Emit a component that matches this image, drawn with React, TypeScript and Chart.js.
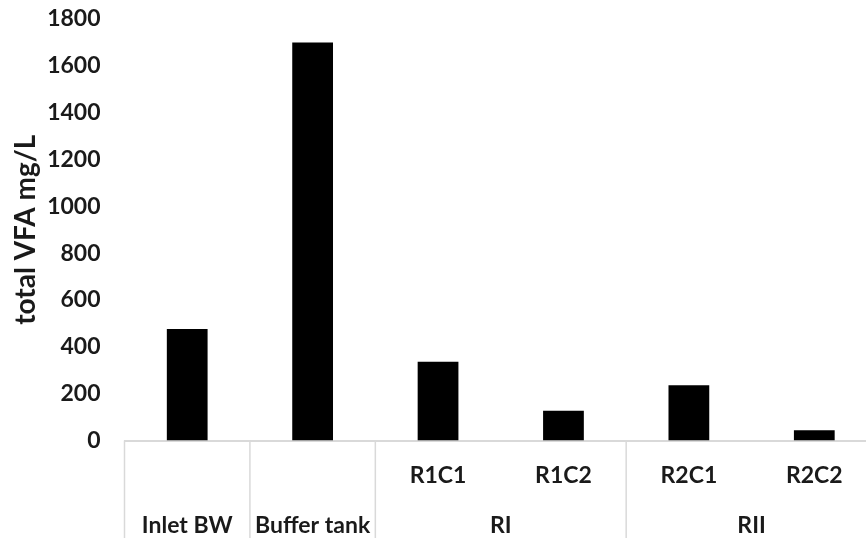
import React, { useEffect, useRef } from "react";
import { Chart, registerables } from "chart.js";

Chart.register(...registerables);

const categories = ["Inlet BW", "Buffer tank", "R1C1", "R1C2", "R2C1", "R2C2"];
const subLabels = ["", "", "R1C1", "R1C2", "R2C1", "R2C2"];
const groupNames = ["Inlet BW", "Buffer tank", "RI", "RII"];
const groupSpans = [1, 1, 2, 2];
const values = [476, 1700, 336, 127, 236, 44];
const yTicks = [0, 200, 400, 600, 800, 1000, 1200, 1400, 1600, 1800];
const yTitle = "total VFA mg/L";

const TEXT = "#1a1a1a";
const LINE = "#d9d9d9";
const FONT = "Lato";

const multiLevelAxis = {
  id: "multiLevelAxis",
  afterDraw(chart: any) {
    const x = chart.scales.x;
    const area = chart.chartArea;
    const ctx = chart.ctx;
    const half = (x.getPixelForValue(1) - x.getPixelForValue(0)) / 2;
    const bottom = chart.height;
    ctx.save();
    ctx.strokeStyle = LINE;
    ctx.lineWidth = 1.5;
    let idx = 0;
    const bounds: number[] = [idx];
    groupSpans.forEach((s) => {
      idx += s;
      bounds.push(idx);
    });
    bounds.forEach((b) => {
      const px = x.getPixelForValue(b) - half;
      ctx.beginPath();
      ctx.moveTo(px, area.bottom);
      ctx.lineTo(px, bottom);
      ctx.stroke();
    });
    ctx.fillStyle = TEXT;
    ctx.font = `bold 23px ${FONT}`;
    ctx.textAlign = "center";
    ctx.textBaseline = "middle";
    subLabels.forEach((lab, i) => {
      if (!lab) return;
      ctx.fillText(lab, x.getPixelForValue(i), area.bottom + 35);
    });
    let start = 0;
    groupNames.forEach((g, gi) => {
      const end = start + groupSpans[gi] - 1;
      const cx = (x.getPixelForValue(start) + x.getPixelForValue(end)) / 2;
      ctx.fillText(g, cx, area.bottom + 85);
      start = end + 1;
    });
    ctx.restore();
  },
};

export default function App() {
  const ref = useRef<HTMLCanvasElement>(null);
  useEffect(() => {
    if (!ref.current) return;
    const chart = new Chart(ref.current, {
      type: "bar",
      data: {
        labels: categories,
        datasets: [
          {
            data: values,
            backgroundColor: "#000000",
            borderWidth: 0,
            barPercentage: 0.325,
            categoryPercentage: 1,
          },
        ],
      },
      options: {
        responsive: false,
        animation: false,
        maintainAspectRatio: false,
        layout: { padding: { top: 19, left: 0, right: 0, bottom: 0 } },
        plugins: {
          legend: { display: false },
          tooltip: { enabled: false },
        },
        scales: {
          x: {
            ticks: { display: false },
            grid: { display: false, drawTicks: false },
            border: { display: true, color: LINE, width: 2 },
            afterFit: (s: any) => {
              s.height = 97.5;
            },
          },
          y: {
            min: 0,
            max: yTicks[yTicks.length - 1],
            afterBuildTicks: (s: any) => {
              s.ticks = yTicks.map((v) => ({ value: v }));
            },
            ticks: {
              padding: 24,
              color: TEXT,
              font: { family: FONT, size: 23, weight: "bold" },
              callback: (v: any) => String(v),
            },
            grid: { display: false, drawTicks: false },
            border: { display: false },
            title: {
              display: true,
              text: yTitle,
              color: TEXT,
              font: { family: FONT, size: 28, weight: "bold" },
              padding: { top: 9, bottom: 0 },
            },
            afterFit: (s: any) => {
              s.width = 124.5;
              s.paddingTop = 0;
              s.paddingBottom = 0;
            },
          },
        },
      },
      plugins: [multiLevelAxis],
    });
    return () => chart.destroy();
  }, []);
  return (
    <div
      style={{
        position: "fixed",
        left: 0,
        top: 0,
        width: 866,
        height: 538,
        overflow: "hidden",
        background: "#fff",
      }}
    >
      <canvas ref={ref} width={877} height={538} style={{ display: "block" }} />
    </div>
  );
}
